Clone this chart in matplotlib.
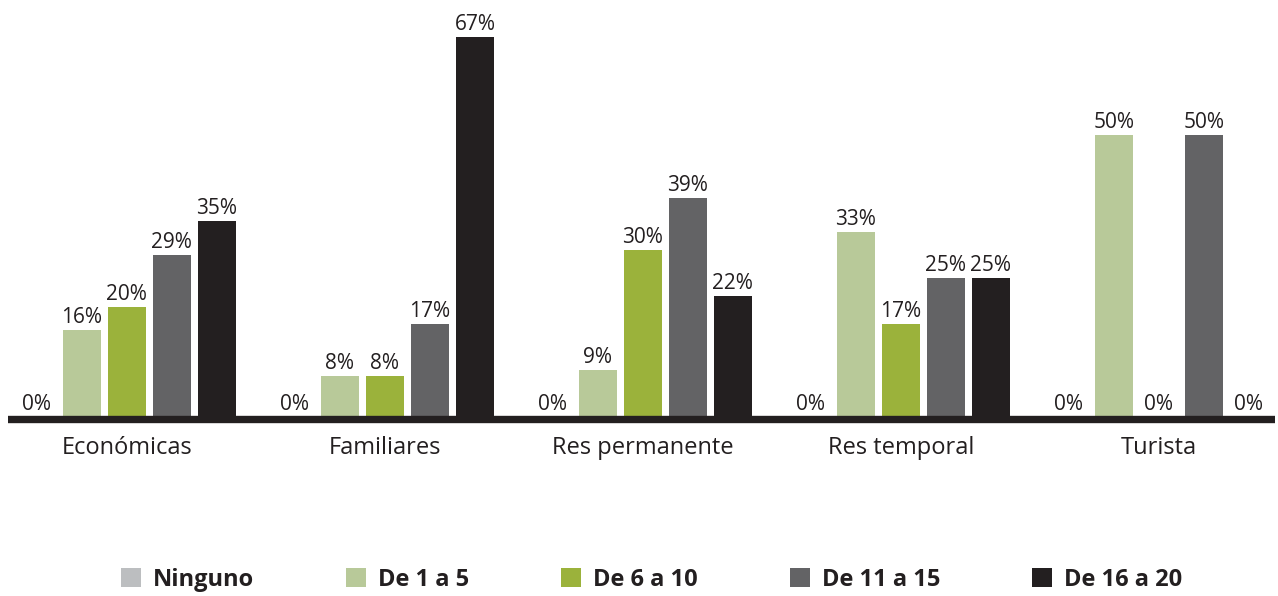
import matplotlib.pyplot as plt
import numpy as np

categories = ['Económicas', 'Familiares', 'Res permanente', 'Res temporal', 'Turista']
series_names = ['Ninguno', 'De 1 a 5', 'De 6 a 10', 'De 11 a 15', 'De 16 a 20']
ninguno = [0, 0, 0, 0, 0]
de_1_5 = [16, 8, 9, 33, 50]
de_6_10 = [20, 8, 30, 17, 0]
de_11_15 = [29, 17, 39, 25, 50]
de_16_20 = [35, 67, 22, 25, 0]
values = [ninguno, de_1_5, de_6_10, de_11_15, de_16_20]
colors = ['#bcbec0', '#b8c999', '#9bb23b', '#636365', '#231f20']

plt.rcParams['font.family'] = ['Open Sans', 'DejaVu Sans']

fig = plt.figure(figsize=(12.78, 5.96), dpi=100)
# px per percent and pixel row of the zero line
scale = 5.75
zero_px = 422
ax = fig.add_axes([8 / 1278, 1 - 430 / 596, (1275 - 8) / 1278, 430 / 596])

group_gap = 5.73
x = np.arange(len(categories)) * group_gap
offsets = [-2, -1, 0, 1, 2]
width = 0.85

handles = []
for name, vals, off, col in zip(series_names, values, offsets, colors):
    bars = ax.bar(x + off, vals, width, color=col, label=name, zorder=2)
    handles.append(bars)
    for xi, v in zip(x + off, vals):
        ax.text(xi, max(v + 1.2, 2.1), f'{v}%', ha='center', va='baseline',
                fontsize=15, color='#231f20')

# thick baseline on top of bars
ax.axhline(3.5 / scale, color='#231f20', linewidth=5.3, zorder=3)

ax.set_xlim(-2.64, x[-1] + 2.58)
ax.set_ylim(-8 / scale, zero_px / scale)
ax.axis('off')

for xi, c in zip(x, categories):
    ax.text(xi, -32 / scale, c, ha='center', va='baseline', fontsize=17,
            color='#231f20')

fig.legend(handles=handles, labels=series_names, loc='center', ncol=5,
           bbox_to_anchor=(651.5 / 1278, 1 - 580 / 596), frameon=False,
           prop={'weight': 'bold', 'size': 17}, handlelength=0.85,
           handleheight=0.85, handletextpad=0.5, columnspacing=3.9,
           labelcolor='#231f20')

plt.savefig('out.png', dpi=100)
